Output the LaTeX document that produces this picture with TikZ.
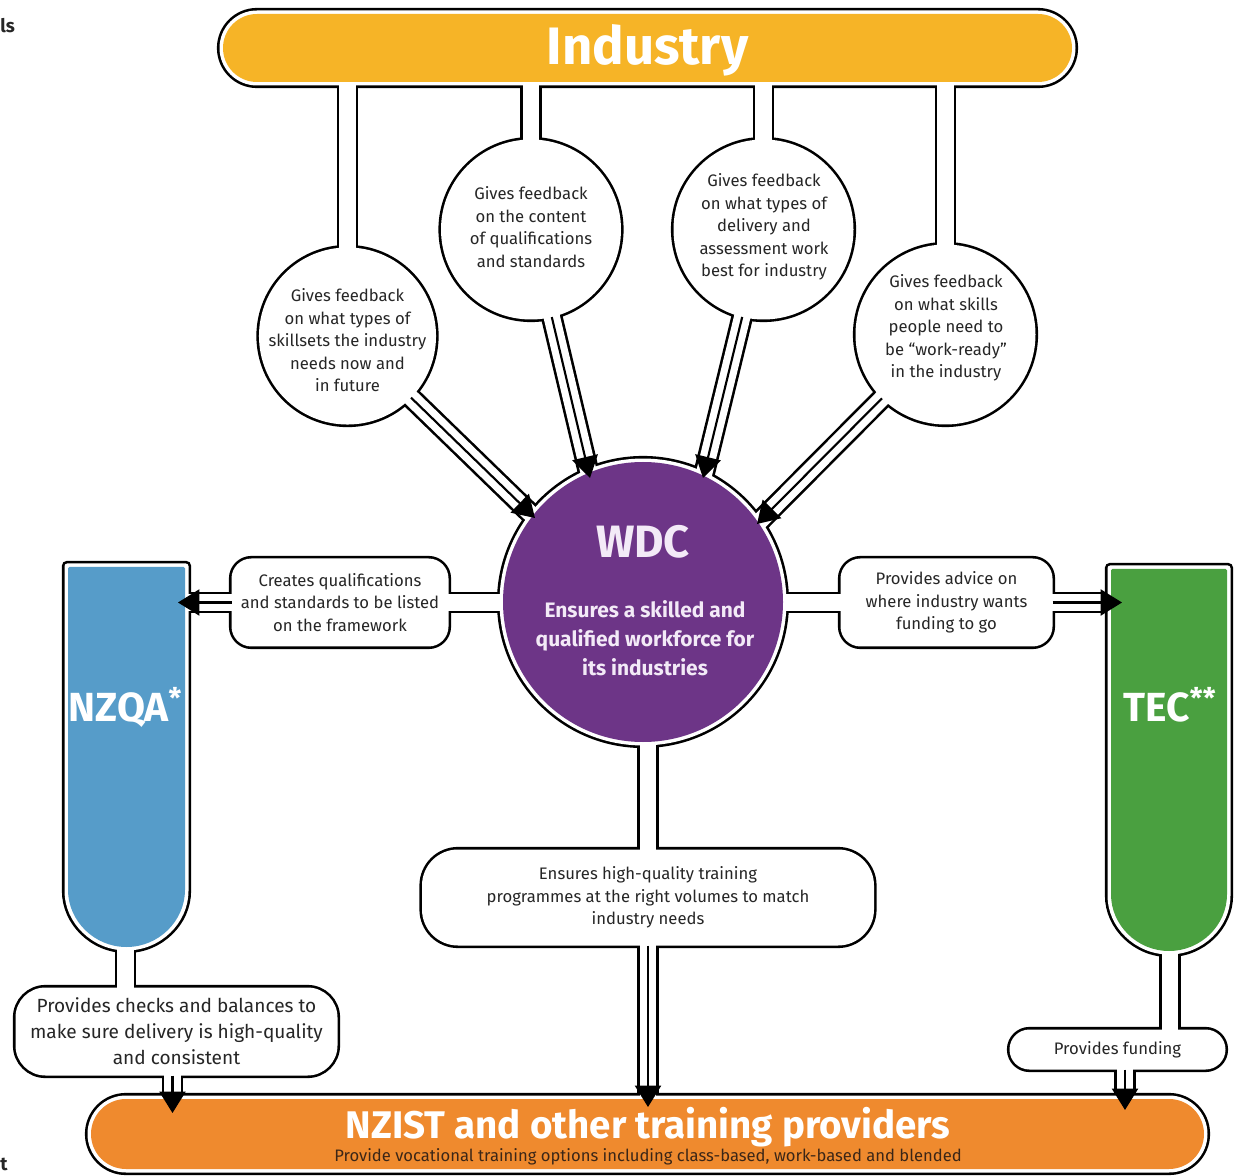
\documentclass[tikz,border=0pt]{standalone}
\usepackage{fontspec}
\setmainfont{Fira Sans}
\usetikzlibrary{calc,arrows.meta}

\definecolor{indY}{HTML}{F6B427}
\definecolor{wdcP}{HTML}{6D3587}
\definecolor{nzqaB}{HTML}{569CC9}
\definecolor{tecG}{HTML}{4AA040}
\definecolor{nzistO}{HTML}{EF8A2E}
\definecolor{ink}{HTML}{262626}
\definecolor{lav}{HTML}{F3EAF7}
\definecolor{brownink}{HTML}{3B2617}

\pgfdeclarelayer{rimA}
\pgfdeclarelayer{rimB}
\pgfsetlayers{rimA,rimB,main}

\newcommand\setfs[2]{\fontsize{#1}{#2}\selectfont}

\tikzset{
  rimline/.style={draw=black, line width=3.9pt},
  chanA/.style={draw=black, line width=16.2pt},
  chanB/.style={draw=white, line width=12.3pt},
  flow/.style={draw=black, line width=1.6pt, -{Triangle[length=16pt,width=19.5pt]}},
  panel/.style={rectangle, inner sep=0pt, outer sep=0pt},
  ring/.style={circle, inner sep=0pt, outer sep=0pt},
  note/.style={text=ink, align=center, font=\setfs{12.5pt}{16.9pt}},
  heading/.style={text=white, font=\bfseries\setfs{#1}{#1}, anchor=base, inner sep=0pt},
}

% white channel with black edges: black underlay, white core
\newcommand\chan[1]{%
  \begin{pgfonlayer}{rimA}\draw[chanA] #1;\end{pgfonlayer}%
  \begin{pgfonlayer}{rimB}\draw[chanB] #1;\end{pgfonlayer}}
% outline + white body around a rectangular node (offset in px, corner radius)
\newcommand\rimbox[3]{%
  \begin{pgfonlayer}{rimA}\draw[rimline, rounded corners=#3] ($(#1.south west)+(-#2,#2)$) rectangle ($(#1.north east)+(#2,-#2)$);\end{pgfonlayer}%
  \begin{pgfonlayer}{rimB}\fill[white, rounded corners=#3] ($(#1.south west)+(-#2,#2)$) rectangle ($(#1.north east)+(#2,-#2)$);\end{pgfonlayer}}
% outline + white body around a circular node
\newcommand\rimcirc[2]{%
  \begin{pgfonlayer}{rimA}\draw[rimline] (#1.center) circle[radius=#2];\end{pgfonlayer}%
  \begin{pgfonlayer}{rimB}\fill[white] (#1.center) circle[radius=#2];\end{pgfonlayer}}
% test-tube panel: colour, left x, right x, top y, arc centre y, radius (px)
\newcommand\tube[6]{%
  \begin{pgfonlayer}{rimA}\draw[rimline, rounded corners=2pt] (#2,#4) -- (#2,#5) arc[start angle=180, end angle=360, radius=#6*0.75pt] -- (#3,#4) -- cycle;\end{pgfonlayer}%
  \begin{pgfonlayer}{rimB}\fill[white, rounded corners=2pt] (#2,#4) -- (#2,#5) arc[start angle=180, end angle=360, radius=#6*0.75pt] -- (#3,#4) -- cycle;\end{pgfonlayer}%
  \fill[#1, rounded corners=1pt] (#2+3.5,#4+3.5) -- (#2+3.5,#5) arc[start angle=180, end angle=360, radius=(#6-3.5)*0.75pt] -- (#3-3.5,#4+3.5) -- cycle;}

\begin{document}
\begin{tikzpicture}[x=0.75pt, y=-0.75pt]
\useasboundingbox (0,0) rectangle (1236,1176);

% coloured panels
\node[panel, fill=indY, minimum width=636.75pt, minimum height=51pt, rounded corners=25.5pt] (industry) at (647.5,48) {};
\node[ring, fill=wdcP, minimum size=210pt] (wdc) at (643,602) {};
\node[panel, fill=nzistO, minimum width=834.75pt, minimum height=52.5pt, rounded corners=26.25pt] (nzist) at (647.5,1134) {};
\tube{nzqaB}{64.5}{188.5}{563.5}{888.5}{62}
\tube{tecG}{1107.5}{1230.5}{565.5}{893}{61.5}
\rimbox{industry}{3.5}{28.125pt}
\rimcirc{wdc}{107.6pt}
\rimbox{nzist}{3.5}{28.875pt}

% feedback circles
\node[ring, minimum size=132.75pt] (c1) at (347.5,336) {};
\node[ring, minimum size=135pt] (c2) at (531,229.5) {};
\node[ring, minimum size=135pt] (c3) at (763.5,229.5) {};
\node[ring, minimum size=135pt] (c4) at (945.5,334.5) {};
\rimcirc{c1}{66.4pt}
\rimcirc{c2}{67.5pt}
\rimcirc{c3}{67.5pt}
\rimcirc{c4}{67.5pt}

\node[note] (c1t) at (347.5,340.5) {Gives feedback\\on what types of\\skillsets the industry\\needs now and\\in future};
\node[note] (c2t) at (531,227) {Gives feedback\\on the content\\of qualifications\\and standards};
\node[note] (c3t) at (764,227) {Gives feedback\\on what types of\\delivery and\\assessment work\\best for industry};
\node[note] (c4t) at (946,328) {Gives feedback\\on what skills\\people need to\\be “work-ready”\\in the industry};

% text boxes
\node[panel, note, minimum width=162.75pt, minimum height=66pt] (cq) at (340,602.5) {Creates qualifications\\and standards to be listed\\on the framework};
\node[panel, note, minimum width=159pt, minimum height=66pt] (ad) at (946.5,602.5) {Provides advice on\\where industry wants\\funding to go};
\node[panel, note, minimum width=339pt, minimum height=72pt] (en) at (648,897.5) {Ensures high-quality training\\programmes at the right volumes to match\\industry needs};
\node[panel, note, font=\setfs{14.3pt}{19.5pt}, minimum width=241.5pt, minimum height=66pt] (ck) at (176.5,1031.5) {Provides checks and balances to\\make sure delivery is high-quality\\and consistent};
\node[panel, note, minimum width=162pt, minimum height=30pt] (fd) at (1117.5,1049.5) {Provides funding};
\rimbox{cq}{0}{15pt}
\rimbox{ad}{0}{15pt}
\rimbox{en}{0}{27pt}
\rimbox{ck}{0}{22.5pt}
\rimbox{fd}{0}{15pt}

% titles
\node[heading=39.5pt] (indt) at (647.5,65) {Industry};
\node[heading=34pt, text=lav] (wdct) at (643,558) {WDC};
\node[text=lav, align=center, font=\bfseries\setfs{15.7pt}{21.75pt}] (wdcs) at (645,638) {Ensures a skilled and\\qualified workforce for\\its industries};
\node[heading=30.5pt] (nzqa) at (125.5,721) {NZQA\textsuperscript{*}};
\node[heading=30.5pt] (tec) at (1170,721) {TEC\textsuperscript{**}};
\node[heading=28.9pt] (nzt) at (648,1138) {NZIST and other training providers};
\node[anchor=base, inner sep=0pt, text=brownink, font=\setfs{12.45pt}{13pt}] (nzs) at (648,1161) {Provide vocational training options including class-based, work-based and blended};

% fragments of neighbouring text at the left edge
\node[anchor=base west, inner sep=0pt, text=ink, font=\bfseries\setfs{14pt}{15pt}] (edgeA) at (0,33) {ls};
\node[anchor=base west, inner sep=0pt, text=ink, font=\bfseries\setfs{14pt}{15pt}] (edgeB) at (0,1170) {t};

% arrow tips
\coordinate (t1) at (535,518);
\coordinate (t2) at (590,478);
\coordinate (t3) at (703,478);
\coordinate (t4) at (757,524);
\coordinate (aq) at (178,602.5);
\coordinate (at) at (1122,602.5);
\coordinate (ae) at (648,1107);
\coordinate (ak) at (172.5,1113);
\coordinate (af) at (1125,1110);

% channels
\chan{(c1 |- industry) -- (c1.center)}
\chan{(c2 |- industry) -- (c2.center)}
\chan{(c3 |- industry) -- (c3.center)}
\chan{(c4 |- industry) -- (c4.center)}
\chan{(c1.center) -- ($(c1)!1.25!(t1)$)}
\chan{(c2.center) -- ($(c2)!1.25!(t2)$)}
\chan{(c3.center) -- ($(c3)!1.25!(t3)$)}
\chan{(c4.center) -- ($(c4)!1.25!(t4)$)}
\chan{(cq -| nzqa) -- (cq -| wdc)}
\chan{(ad -| wdc) -- (ad -| tec)}
\chan{(en |- wdc) -- (en |- nzist)}
\chan{(nzqa.center) -- (nzqa |- ck)}
\chan{(ak |- ck) -- (ak |- nzist)}
\chan{(tec.center) -- (tec |- fd)}
\chan{(af |- fd) -- (af |- nzist)}

% arrows
\draw[flow] (c1) -- (t1);
\draw[flow] (c2) -- (t2);
\draw[flow] (c3) -- (t3);
\draw[flow] (c4) -- (t4);
\draw[flow] (cq.west) -- (aq);
\draw[flow] (ad.east) -- (at);
\draw[flow] (en.south) -- (ae);
\draw[flow] (ck.south -| ak) -- (ak);
\draw[flow] (fd.south -| af) -- (af);
\end{tikzpicture}
\end{document}
